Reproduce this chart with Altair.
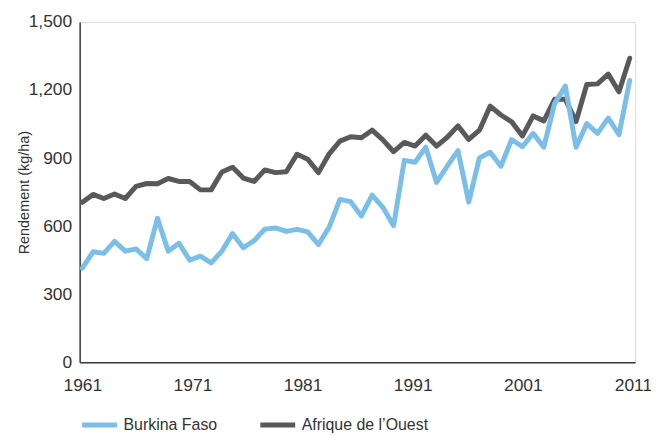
import altair as alt
import pandas as pd

years = list(range(1961, 2013))

burkina = [415, 487, 480, 533, 490, 500, 457, 635, 490, 525,
           450, 468, 438, 490, 567, 505, 536, 587, 592, 577,
           586, 575, 519, 596, 718, 708, 645, 737, 683, 602,
           890, 882, 948, 793, 865, 933, 706, 901, 926, 864,
           982, 950, 1009, 948, 1140, 1217, 948, 1052, 1009, 1076,
           1003, 1242]

afrique = [705, 740, 722, 742, 722, 775, 788, 787, 810, 797,
           797, 760, 760, 839, 860, 812, 797, 848, 836, 840,
           917, 895, 836, 919, 975, 994, 990, 1023, 980, 928,
           969, 953, 1001, 953, 992, 1042, 982, 1023, 1129, 1090,
           1060, 997, 1086, 1064, 1159, 1159, 1061, 1224, 1227, 1270,
           1192, 1340]

series_names = ["Burkina Faso", "Afrique de l\u2019Ouest"]
series_colors = ["#7bbfe8", "#58595b"]
x_labels = ["1961", "1971", "1981", "1991", "2001", "2011"]
y_ticks = [0, 300, 600, 900, 1200, 1500]

df = pd.DataFrame({
    "Année": years * 2,
    "Rendement": burkina + afrique,
    "Série": [series_names[0]] * len(years) + [series_names[1]] * len(years),
})

# evenly spread label positions across the axis, as in the reference
n = len(x_labels)
step = (2012.3 - 1961) / (n - 1)
tick_pos = [1961 + i * step for i in range(n)]
label_expr = "[" + ",".join("'" + s + "'" for s in x_labels) + "][round((datum.value - 1961) / " + str(step) + ")]"

font = "Liberation Sans"

color = alt.Color(
    "Série:N",
    scale=alt.Scale(domain=series_names, range=series_colors),
    legend=alt.Legend(
        title=None,
        orient="none",
        direction="horizontal",
        legendX=0,
        legendY=385,
        symbolType="stroke",
        symbolStrokeWidth=5,
        symbolSize=1225,
        labelFont=font,
        labelFontSize=16,
        labelColor="#333333",
        labelOffset=4,
        columnPadding=32,
    ),
)

x = alt.X(
    "Année:Q",
    scale=alt.Scale(domain=[1960.75, 2012.5], nice=False, zero=False),
    axis=alt.Axis(
        title=None,
        values=tick_pos,
        labelExpr=label_expr,
        ticks=False,
        grid=False,
        labelFont=font,
        labelFontSize=17.5,
        labelColor="#333333",
        labelPadding=14,
        domainColor="#3a3a3a",
        domainWidth=1.5,
    ),
)

y = alt.Y(
    "Rendement:Q",
    scale=alt.Scale(domain=[0, 1500], nice=False),
    axis=alt.Axis(
        title="Rendement (kg/ha)",
        values=y_ticks,
        format=",d",
        ticks=False,
        grid=False,
        labelFont=font,
        labelFontSize=17.5,
        labelColor="#333333",
        labelPadding=8,
        titleFont=font,
        titleFontSize=14.5,
        titleFontWeight="normal",
        titleColor="#333333",
        titlePadding=-3,
        domainColor="#3a3a3a",
        domainWidth=1.5,
    ),
)

base = alt.Chart(df)

black_line = base.transform_filter(
    alt.datum["Série"] == series_names[1]
).mark_line(strokeWidth=5, strokeJoin="round", strokeCap="round").encode(x=x, y=y, color=color)

blue_line = base.transform_filter(
    alt.datum["Série"] == series_names[0]
).mark_line(strokeWidth=5, strokeJoin="round", strokeCap="round").encode(x=x, y=y, color=color)

chart = alt.layer(black_line, blue_line).properties(
    width=558,
    height=342,
    autosize=alt.AutoSizeParams(type="none"),
    padding={"left": 72, "top": 13, "right": 16, "bottom": 72},
).configure_view(stroke=None).configure(background="white")

chart.save("out.html", embed_options={"renderer": "svg", "actions": False})
